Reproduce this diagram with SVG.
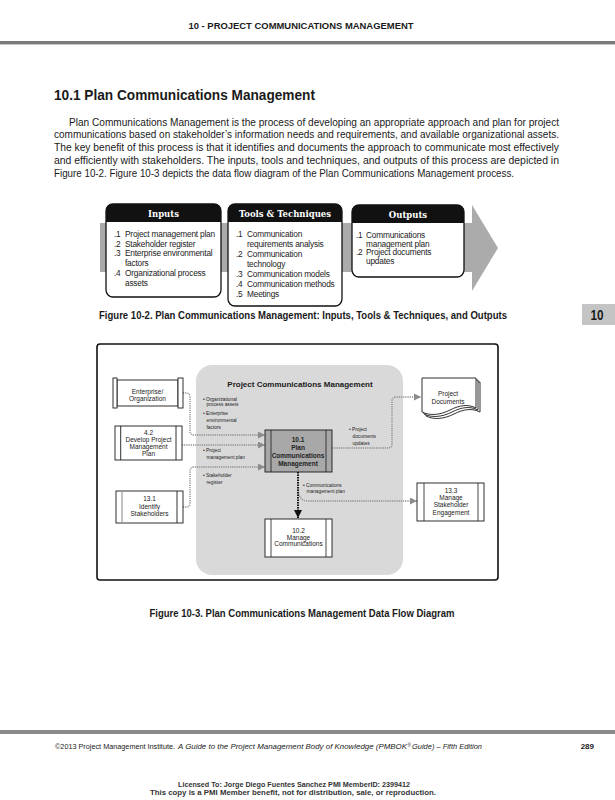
<svg xmlns="http://www.w3.org/2000/svg" width="615" height="800" viewBox="0 0 615 800">
<style>
text{font-family:"Liberation Sans",Arial,sans-serif;fill:#1a1a1a}
.body{font-size:11px}
.itm{font-size:8.3px;letter-spacing:-0.2px}
.hdr{font-family:"DejaVu Serif",serif;font-weight:bold;font-size:8.5px;fill:#fff;text-anchor:middle}
.ibox{fill:#fff;stroke:#111;stroke-width:1.3}
.box{fill:#fff;stroke:#1a1a1a;stroke-width:0.9}
.lbl{font-size:6.5px;text-anchor:middle;fill:#222}
.blt{font-size:4.8px;fill:#222}
.conn{fill:none;stroke:#8c8c8c;stroke-width:1.4;stroke-dasharray:1.2 1}
.cap{font-weight:bold;font-size:11.5px;text-anchor:middle}
.lic{font-size:7.5px;font-weight:bold;text-anchor:middle;fill:#333}
</style>
<defs>
<marker id="ag" viewBox="0 0 10 10" refX="10" refY="5" markerWidth="7" markerHeight="7" markerUnits="userSpaceOnUse" orient="auto"><path d="M0,0 L10,5 L0,10 Z" fill="#8c8c8c"/></marker>
<marker id="ab" viewBox="0 0 10 10" refX="10" refY="5" markerWidth="8" markerHeight="8" markerUnits="userSpaceOnUse" orient="auto"><path d="M0,0 L10,5 L0,10 Z" fill="#111"/></marker>
</defs>
<rect width="615" height="800" fill="#fff"/>

<!-- page header -->
<text x="301" y="29" font-size="9.5" font-weight="bold" text-anchor="middle" textLength="225" lengthAdjust="spacingAndGlyphs">10 - PROJECT COMMUNICATIONS MANAGEMENT</text>
<rect x="0" y="41" width="615" height="3" fill="#7a7a7a"/>
<rect x="0" y="44" width="615" height="1" fill="#c8c8c8"/>

<!-- title and paragraph -->
<text x="54" y="100" font-size="15" font-weight="bold" textLength="261" lengthAdjust="spacingAndGlyphs">10.1 Plan Communications Management</text>
<text class="body" x="69" y="125.5" textLength="490" lengthAdjust="spacingAndGlyphs">Plan Communications Management is the process of developing an appropriate approach and plan for project</text>
<text class="body" x="54" y="138.3" textLength="505" lengthAdjust="spacingAndGlyphs">communications based on stakeholder’s information needs and requirements, and available organizational assets.</text>
<text class="body" x="54" y="151" textLength="505" lengthAdjust="spacingAndGlyphs">The key benefit of this process is that it identifies and documents the approach to communicate most effectively</text>
<text class="body" x="54" y="163.8" textLength="505" lengthAdjust="spacingAndGlyphs">and efficiently with stakeholders. The inputs, tools and techniques, and outputs of this process are depicted in</text>
<text class="body" x="54" y="176.5" textLength="460" lengthAdjust="spacingAndGlyphs">Figure 10-2. Figure 10-3 depicts the data flow diagram of the Plan Communications Management process.</text>

<!-- Figure 10-2 ITTO -->
<g id="itto-arrow">
<polygon points="100,223 472,223 472,205 498,248 472,291 472,272 100,272" fill="#ababab"/>
</g>
<g id="inputs">
<rect class="ibox" x="106" y="204" width="115" height="93" rx="7"/>
<path d="M106,222 V211 Q106,204 113,204 H214 Q221,204 221,211 V222 Z" fill="#111"/>
<text class="hdr" x="163.5" y="217">Inputs</text>
<text class="itm"><tspan x="114" y="237">.1</tspan><tspan x="125" y="237">Project management plan</tspan><tspan x="114" y="246.7">.2</tspan><tspan x="125" y="246.7">Stakeholder register</tspan><tspan x="114" y="256.4">.3</tspan><tspan x="125" y="256.4">Enterprise environmental</tspan><tspan x="125" y="266">factors</tspan><tspan x="114" y="275.8">.4</tspan><tspan x="125" y="275.8">Organizational process</tspan><tspan x="125" y="285.5">assets</tspan></text>
</g>
<g id="tools">
<rect class="ibox" x="228" y="204" width="114" height="102" rx="7"/>
<path d="M228,222 V211 Q228,204 235,204 H335 Q342,204 342,211 V222 Z" fill="#111"/>
<text class="hdr" x="285" y="217">Tools &amp; Techniques</text>
<text class="itm"><tspan x="236" y="237">.1</tspan><tspan x="247" y="237">Communication</tspan><tspan x="247" y="247">requirements analysis</tspan><tspan x="236" y="257">.2</tspan><tspan x="247" y="257">Communication</tspan><tspan x="247" y="267">technology</tspan><tspan x="236" y="277">.3</tspan><tspan x="247" y="277">Communication models</tspan><tspan x="236" y="287">.4</tspan><tspan x="247" y="287">Communication methods</tspan><tspan x="236" y="297">.5</tspan><tspan x="247" y="297">Meetings</tspan></text>
</g>
<g id="outputs">
<rect class="ibox" x="352" y="205" width="112" height="72" rx="7"/>
<path d="M352,223 V212 Q352,205 359,205 H457 Q464,205 464,212 V223 Z" fill="#111"/>
<text class="hdr" x="408" y="218">Outputs</text>
<text class="itm"><tspan x="356" y="238">.1</tspan><tspan x="366" y="238">Communications</tspan><tspan x="366" y="246.5">management plan</tspan><tspan x="356" y="255">.2</tspan><tspan x="366" y="255">Project documents</tspan><tspan x="366" y="264">updates</tspan></text>
</g>
<text class="cap" x="303" y="319" textLength="408" lengthAdjust="spacingAndGlyphs">Figure 10-2. Plan Communications Management: Inputs, Tools &amp; Techniques, and Outputs</text>

<!-- side tab -->
<rect x="582" y="304" width="33" height="21" fill="#c4c4c4"/>
<text x="597" y="320" font-size="15" font-weight="bold" text-anchor="middle" textLength="13" lengthAdjust="spacingAndGlyphs" fill="#333">10</text>

<!-- Figure 10-3 DFD -->
<rect x="97" y="344" width="401" height="236" rx="3" fill="#fff" stroke="#111" stroke-width="1.6"/>
<g id="pcm-area">
<rect x="196" y="365" width="207" height="210" rx="16" fill="#d9d9d9"/>
<text x="300" y="387" font-size="8" font-weight="bold" text-anchor="middle">Project Communications Management</text>
</g>

<g id="connectors">
<path class="conn" d="M183,393 H186 Q190,393 190,397 V431 Q190,435 194,435 H265" marker-end="url(#ag)"/>
<path class="conn" d="M182,445 H265" marker-end="url(#ag)"/>
<path class="conn" d="M183,507 H186 Q190,507 190,503 V471 Q190,467 194,467 H265" marker-end="url(#ag)"/>
<path class="conn" d="M332,448 H388 Q392,448 392,444 V401 Q392,397 396,397 H421" marker-end="url(#ag)"/>
<path class="conn" d="M298,487 Q298,501 308,501 H417" marker-end="url(#ag)"/>
<path d="M298,472 V518" fill="none" stroke="#111" stroke-width="2" stroke-dasharray="1.5 1" marker-end="url(#ab)"/>
</g>

<g id="labels">
<text class="blt"><tspan x="203" y="400.5">• Organizational</tspan><tspan x="206.5" y="406">process assets</tspan></text>
<text class="blt"><tspan x="203" y="414.7">• Enterprise</tspan><tspan x="206.5" y="421.7">environmental</tspan><tspan x="206.5" y="429">factors</tspan></text>
<text class="blt"><tspan x="203" y="451.7">• Project</tspan><tspan x="206.5" y="459">management plan</tspan></text>
<text class="blt"><tspan x="203" y="476.7">• Stakeholder</tspan><tspan x="206.5" y="483.5">register</tspan></text>
<text class="blt"><tspan x="349" y="430.7">• Project</tspan><tspan x="352.5" y="437.7">documents</tspan><tspan x="352.5" y="444.7">updates</tspan></text>
<text class="blt"><tspan x="303" y="486.8">• Communications</tspan><tspan x="306.5" y="492.8">management plan</tspan></text>
</g>

<g id="enterprise">
<rect class="box" x="117" y="380" width="61" height="26"/>
<rect class="box" x="113" y="378" width="4" height="30"/>
<rect class="box" x="178" y="378" width="5" height="30"/>
<text class="lbl"><tspan x="147.5" y="394">Enterprise/</tspan><tspan x="147.5" y="400.5">Organization</tspan></text>
</g>
<g id="p4-2">
<rect class="box" x="115" y="426" width="67" height="34"/>
<line x1="120.7" y1="426" x2="120.7" y2="460" stroke="#1a1a1a" stroke-width="0.9"/>
<line x1="176" y1="426" x2="176" y2="460" stroke="#1a1a1a" stroke-width="0.9"/>
<text class="lbl"><tspan x="148.5" y="434.5">4.2</tspan><tspan x="148.5" y="441.5">Develop Project</tspan><tspan x="148.5" y="448.5">Management</tspan><tspan x="148.5" y="455.5">Plan</tspan></text>
</g>
<g id="p13-1">
<rect class="box" x="116" y="491" width="67" height="32"/>
<line x1="122" y1="491" x2="122" y2="523" stroke="#999" stroke-width="1.2"/>
<line x1="177" y1="491" x2="177" y2="523" stroke="#1a1a1a" stroke-width="0.9"/>
<text class="lbl"><tspan x="149.5" y="500.5">13.1</tspan><tspan x="149.5" y="508.5">Identify</tspan><tspan x="149.5" y="516">Stakeholders</tspan></text>
</g>
<g id="p10-1">
<rect x="265" y="430" width="67" height="42" fill="#a8a8a8" stroke="#1a1a1a" stroke-width="0.9"/>
<line x1="271" y1="430" x2="271" y2="472" stroke="#1a1a1a" stroke-width="0.8"/>
<line x1="326" y1="430" x2="326" y2="472" stroke="#1a1a1a" stroke-width="0.8"/>
<text class="lbl" font-weight="bold" font-size="7"><tspan x="298" y="441.5">10.1</tspan><tspan x="298" y="449.5">Plan</tspan><tspan x="298" y="457.5">Communications</tspan><tspan x="298" y="465.5">Management</tspan></text>
</g>
<g id="p10-2">
<rect class="box" x="265" y="519" width="67" height="38"/>
<line x1="271" y1="519" x2="271" y2="557" stroke="#1a1a1a" stroke-width="0.8"/>
<line x1="326" y1="519" x2="326" y2="557" stroke="#1a1a1a" stroke-width="0.8"/>
<text class="lbl"><tspan x="298.5" y="533">10.2</tspan><tspan x="298.5" y="539.5">Manage</tspan><tspan x="298.5" y="546">Communications</tspan></text>
</g>
<g id="project-documents">
<path class="box" d="M426,382 H480 V412 C472,408 464,409 454,414 C444,419 434,420 426,416 Z"/>
<path class="box" d="M424,380 H478 V410 C470,406 462,407 452,412 C442,417 432,418 424,414 Z"/>
<path class="box" d="M422,378 H476 V408 C468,404 460,405 450,410 C440,415 430,416 422,412 Z"/>
<text class="lbl"><tspan x="448" y="395.5">Project</tspan><tspan x="448" y="404">Documents</tspan></text>
</g>
<g id="p13-3">
<rect class="box" x="417" y="483" width="67" height="38"/>
<line x1="424" y1="483" x2="424" y2="521" stroke="#1a1a1a" stroke-width="0.8"/>
<line x1="478" y1="483" x2="478" y2="521" stroke="#1a1a1a" stroke-width="0.8"/>
<text class="lbl"><tspan x="451" y="493">13.3</tspan><tspan x="451" y="500">Manage</tspan><tspan x="451" y="507.3">Stakeholder</tspan><tspan x="451" y="514.6">Engagement</tspan></text>
</g>

<text class="cap" x="302" y="617" textLength="305" lengthAdjust="spacingAndGlyphs">Figure 10-3. Plan Communications Management Data Flow Diagram</text>

<!-- footer -->
<rect x="0" y="730" width="615" height="4" fill="#8a8a8a"/>
<text x="55" y="749" font-size="7.5" textLength="120" lengthAdjust="spacingAndGlyphs">©2013 Project Management Institute.</text>
<text x="178" y="749" font-size="7.5" font-style="italic" textLength="229" lengthAdjust="spacingAndGlyphs">A Guide to the Project Management Body of Knowledge (PMBOK</text>
<text x="407.5" y="746.5" font-size="4.5" font-style="italic">®</text>
<text x="412" y="749" font-size="7.5" font-style="italic" textLength="70" lengthAdjust="spacingAndGlyphs">Guide) – Fifth Edition</text>
<text x="594" y="749" font-size="8" font-weight="bold" text-anchor="end">289</text>
<text class="lic" x="294" y="787" textLength="232" lengthAdjust="spacingAndGlyphs">Licensed To: Jorge Diego Fuentes Sanchez PMI MemberID: 2399412</text>
<text class="lic" x="293" y="795" textLength="286" lengthAdjust="spacingAndGlyphs">This copy is a PMI Member benefit, not for distribution, sale, or reproduction.</text>
</svg>
